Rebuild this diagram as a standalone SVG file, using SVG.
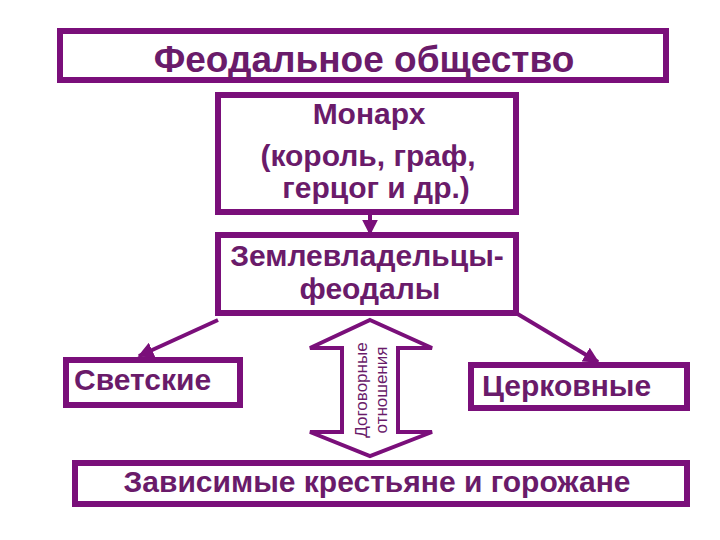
<svg xmlns="http://www.w3.org/2000/svg" width="720" height="540" viewBox="0 0 720 540">
<defs>
<style>
.box{fill:#fff;stroke:#7a0f7a;stroke-width:6}
.t{font-family:"Liberation Sans",Arial,sans-serif;font-weight:bold;fill:#6a1b6a;font-size:30px}
.s{font-family:"Liberation Sans",Arial,sans-serif;fill:#6a1b6a;font-size:17px}
.c{stroke:#7a0f7a;stroke-width:4;fill:none}
</style>
<marker id="ah" viewBox="0 0 10 10" refX="9" refY="5" markerWidth="4" markerHeight="4" orient="auto">
<path d="M0,0 L10,5 L0,10 Z" fill="#7a0f7a"/>
</marker>
</defs>
<rect width="720" height="540" fill="#fff"/>
<g id="title">
<rect class="box" x="60" y="31" width="606" height="49"/>
<text class="t" x="364" y="72" text-anchor="middle" style="font-size:37px">Феодальное общество</text>
</g>
<g id="monarch">
<rect class="box" x="218" y="95" width="298" height="117"/>
<text class="t" x="369" y="124" text-anchor="middle">Монарх</text>
<text class="t" x="368" y="166" text-anchor="middle">(король, граф,</text>
<text class="t" x="376" y="198" text-anchor="middle">герцог и др.)</text>
</g>
<g id="feudals">
<rect class="box" x="218" y="235" width="298" height="78"/>
<text class="t" x="367" y="266" text-anchor="middle">Землевладельцы-</text>
<text class="t" x="370" y="299" text-anchor="middle">феодалы</text>
</g>
<g id="secular">
<rect class="box" x="66" y="360" width="174" height="45"/>
<text class="t" x="74" y="390">Светские</text>
</g>
<g id="church">
<rect class="box" x="471" y="365" width="216" height="43"/>
<text class="t" x="482" y="396">Церковные</text>
</g>
<g id="dependent">
<rect class="box" x="75" y="463" width="612" height="41"/>
<text class="t" x="377" y="492" text-anchor="middle">Зависимые крестьяне и горожане</text>
</g>
<g id="contract">
<path d="M370,320 L432,348 L398,348 L398,432 L432,432 L370,456 L310,432 L342,432 L342,348 L310,348 Z" fill="#fff" stroke="#7a0f7a" stroke-width="4" stroke-linejoin="miter"/>
<text class="s" transform="translate(367,390) rotate(-90)" text-anchor="middle">Договорные</text>
<text class="s" transform="translate(387,390) rotate(-90)" text-anchor="middle">отношения</text>
</g>
<g id="connectors">
<line class="c" x1="370" y1="215" x2="370" y2="234" marker-end="url(#ah)"/>
<line class="c" x1="218" y1="320" x2="139" y2="356" marker-end="url(#ah)"/>
<line class="c" x1="516" y1="313" x2="598" y2="362" marker-end="url(#ah)"/>
</g>
</svg>
